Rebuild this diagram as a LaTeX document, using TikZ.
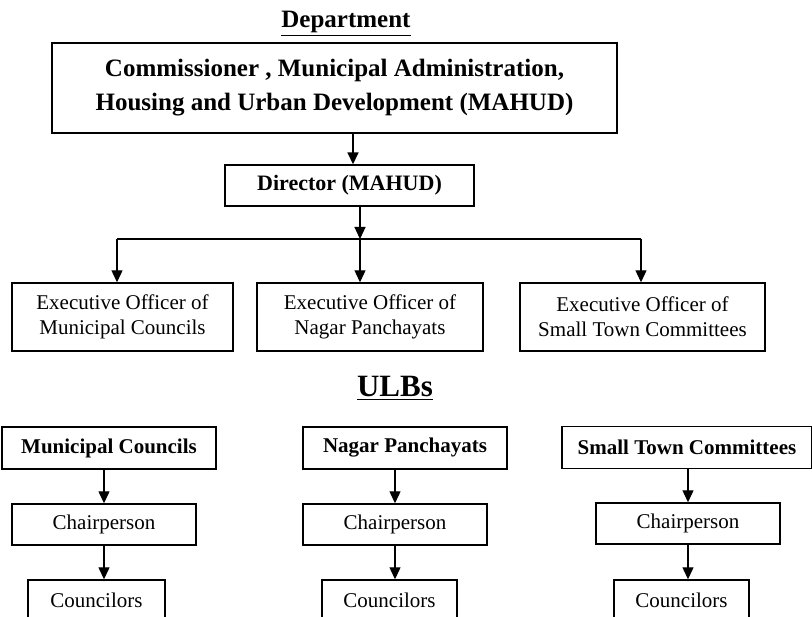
\documentclass[tikz,border=0pt]{standalone}
\usepackage{fontspec}
\setmainfont{Liberation Serif}
\usetikzlibrary{arrows.meta}
\begin{document}
\begin{tikzpicture}[x=1pt,y=-1pt,
    box/.style={draw,line width=1.4pt,inner sep=0pt,align=center},
    eobox/.style={box,minimum width=#1,minimum height=68pt,font=\fontsize{21}{25}\selectfont},
    ulbbox/.style={box,minimum width=#1,minimum height=42pt,font=\fontsize{21}{25}\selectfont\bfseries},
    rolebox/.style={box,minimum width=#1,minimum height=41pt,font=\fontsize{21}{25}\selectfont},
    link/.style={line width=1.2pt,-{Triangle[length=12pt,width=11pt]}}]
  \useasboundingbox (0,0) rectangle (812,617);
  % department
  \node[font=\fontsize{25}{30}\selectfont\bfseries,anchor=base] (dept) at (346,28) {\underline{Department}};
  \node[box,minimum width=565pt,minimum height=90pt,font=\fontsize{25}{34}\selectfont\bfseries] (comm) at (334.5,88)
    {Commissioner , Municipal Administration,\\Housing and Urban Development (MAHUD)};
  \node[box,minimum width=249pt,minimum height=41pt,font=\fontsize{22}{26}\selectfont\bfseries] (dir) at (349.5,185.5) {Director (MAHUD)};
  \node[eobox=221pt] (eo1) at (122.5,317) {Executive Officer of\\Municipal Councils};
  \node[eobox=226pt] (eo2) at (370,317) {Executive Officer of\\Nagar Panchayats};
  \node[eobox=245pt] (eo3) at (642.5,317) {Executive Officer of\\Small Town Committees};
  \coordinate (busL) at (117,239);
  \coordinate (busM) at (360,239);
  \coordinate (busR) at (641,239);
  % ULBs
  \node[font=\fontsize{31}{36}\selectfont\bfseries,anchor=base] (ulbs) at (395,397) {\underline{ULBs}};
  \node[ulbbox=214pt] (mc) at (109,448) {Municipal Councils};
  \node[ulbbox=204pt] (np) at (405,448) {Nagar Panchayats};
  \node[ulbbox=250pt] (stc) at (687,447.5) {Small Town Committees};
  \node[rolebox=184pt] (ch1) at (104,524.5) {Chairperson};
  \node[rolebox=184pt] (ch2) at (395,524.5) {Chairperson};
  \node[rolebox=184pt] (ch3) at (688,523.5) {Chairperson};
  \node[rolebox=137pt] (co1) at (96.5,600.5) {Councilors};
  \node[rolebox=135pt] (co2) at (389.5,600.5) {Councilors};
  \node[rolebox=135pt] (co3) at (681.5,600.5) {Councilors};
  \begin{scope}[link]
    \draw[line width=1.6pt] (comm.south -| 353,0) -- (dir.north -| 353,0);
    \draw (dir.south -| busM) -- (busM);
    \draw[-] (busL) -- (busR);
    \draw (busL) -- (busL |- eo1.north);
    \draw (busM) -- (busM |- eo2.north);
    \draw (busR) -- (busR |- eo3.north);
    \draw (mc.south -| ch1.north) -- (ch1.north);
    \draw (np.south -| ch2.north) -- (ch2.north);
    \draw (stc.south -| ch3.north) -- (ch3.north);
    \draw (ch1.south) -- (ch1.south |- co1.north);
    \draw (ch2.south) -- (ch2.south |- co2.north);
    \draw (ch3.south) -- (ch3.south |- co3.north);
  \end{scope}
\end{tikzpicture}
\end{document}
